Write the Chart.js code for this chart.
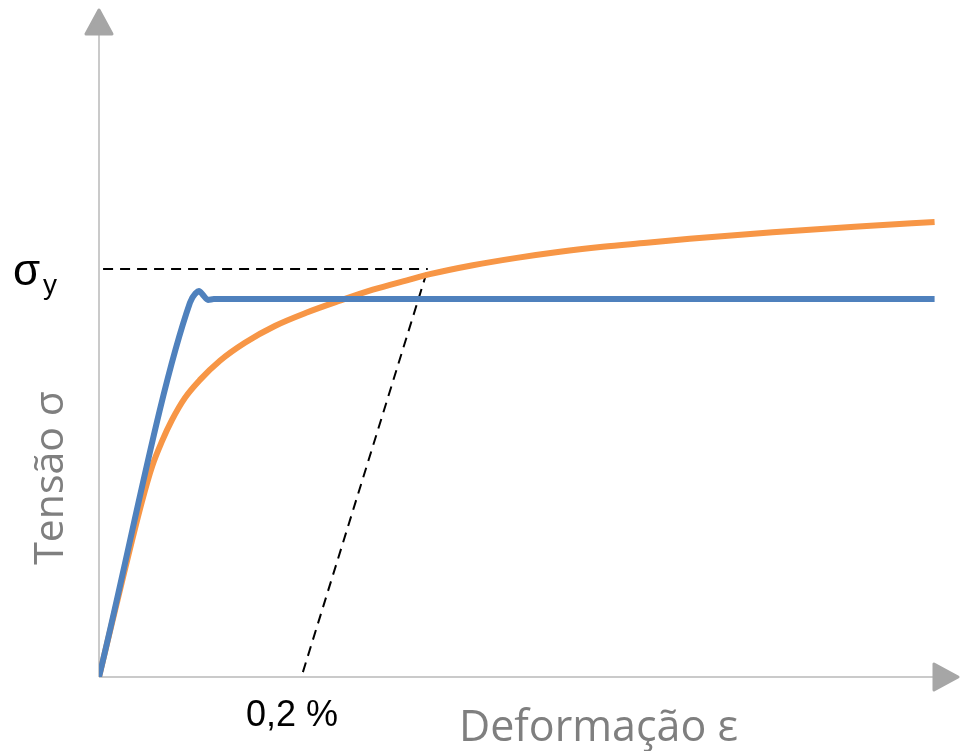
<!DOCTYPE html>
<html>
<head>
<meta charset="utf-8">
<script src="https://cdn.jsdelivr.net/npm/chart.js@4/dist/chart.umd.min.js"></script>
<style>
  html, body { margin: 0; padding: 0; background: #fff; }
  #wrap { width: 961px; height: 751px; position: relative; }
</style>
</head>
<body>
<div id="wrap"><canvas id="chart" width="961" height="751"></canvas></div>
<script>
// strain (x) and stress (y), arbitrary units
var idealX = [0, 0.0892, 0.0951, 0.0980, 0.1020, 0.1069, 0.1127, 0.8196];
var idealY = [0, 91.7, 94.1, 94.6, 93.6, 92.4, 92.6, 92.6];

var realX = [0, 0.0248, 0.0420, 0.0522, 0.0615, 0.0716, 0.0843, 0.0990, 0.1186, 0.1431,
             0.1725, 0.2039, 0.2363, 0.2686, 0.3020, 0.3245, 0.3667, 0.4098, 0.4520,
             0.4941, 0.5373, 0.5794, 0.6608, 0.7529, 0.8196];
var realY = [0, 25.7, 42.9, 51.7, 57.6, 63.0, 68.4, 72.8, 77.5, 81.9,
             86.0, 89.3, 92.2, 94.9, 97.2, 98.7, 100.9, 102.7, 104.2,
             105.4, 106.4, 107.4, 109.0, 110.5, 111.5];

var yieldX = [0.004, 0.3225];
var yieldY = [100, 100];
var offsetX = [0.2, 0.3225];
var offsetY = [1.2, 100];

function pts(xs, ys) {
    return xs.map(function (x, i) { return { x: x, y: ys[i] }; });
}

var axisColor = '#CACACA';
var arrowColor = '#A6A6A6';

var decorPlugin = {
    id: 'decor',
    beforeDatasetsDraw: function (chart) {
        var ctx = chart.ctx;
        var xs = chart.scales.x, ys = chart.scales.y;
        var x0 = xs.getPixelForValue(0), y0 = ys.getPixelForValue(0);
        ctx.save();
        ctx.strokeStyle = axisColor;
        ctx.lineWidth = 2;
        ctx.beginPath();
        ctx.moveTo(x0, y0);
        ctx.lineTo(x0, 30);
        ctx.moveTo(x0, y0);
        ctx.lineTo(935, y0);
        ctx.stroke();

        ctx.fillStyle = arrowColor;
        ctx.strokeStyle = arrowColor;
        ctx.lineJoin = 'round';
        ctx.lineWidth = 3;
        // y arrow
        ctx.beginPath();
        ctx.moveTo(x0, 10);
        ctx.lineTo(x0 + 13, 34);
        ctx.lineTo(x0 - 13, 34);
        ctx.closePath();
        ctx.fill();
        ctx.stroke();
        // x arrow
        ctx.beginPath();
        ctx.moveTo(958, y0);
        ctx.lineTo(934, y0 - 13);
        ctx.lineTo(934, y0 + 13);
        ctx.closePath();
        ctx.fill();
        ctx.stroke();
        ctx.restore();
    },
    afterDraw: function (chart) {
        var ctx = chart.ctx;
        ctx.save();
        ctx.fillStyle = '#000';
        ctx.textBaseline = 'alphabetic';
        ctx.font = '44px "Liberation Sans", Arial, sans-serif';
        ctx.fillText('σ', 13, 285);
        ctx.font = '28px "Liberation Sans", Arial, sans-serif';
        ctx.fillText('y', 43, 294);
        ctx.font = '36px "Liberation Sans", Arial, sans-serif';
        ctx.fillText('0,2 %', 246, 726);

        ctx.fillStyle = '#7F7F7F';
        ctx.font = '43px "Open Sans", Lato, sans-serif';
        ctx.fillText('Deformação ε', 459, 741);
        ctx.font = '41px "Open Sans", Lato, sans-serif';
        ctx.translate(63, 478);
        ctx.rotate(-Math.PI / 2);
        ctx.textAlign = 'center';
        ctx.fillText('Tensão σ', 0, 0);
        ctx.restore();
    }
};

new Chart(document.getElementById('chart').getContext('2d'), {
    type: 'scatter',
    data: {
        datasets: [
            {
                label: 'offset',
                data: pts(offsetX, offsetY),
                showLine: true,
                borderColor: '#000',
                borderWidth: 2,
                borderDash: [10, 7],
                pointRadius: 0,
                order: 3
            },
            {
                label: 'yield',
                data: pts(yieldX, yieldY),
                showLine: true,
                borderColor: '#000',
                borderWidth: 2,
                borderDash: [10, 7],
                pointRadius: 0,
                order: 3
            },
            {
                label: 'ideal',
                data: pts(idealX, idealY),
                showLine: true,
                borderColor: '#4F81BD',
                borderWidth: 6,
                cubicInterpolationMode: 'monotone',
                borderJoinStyle: 'round',
                pointRadius: 0,
                order: 1
            },
            {
                label: 'real',
                data: pts(realX, realY),
                showLine: true,
                borderColor: '#F79646',
                borderWidth: 6,
                cubicInterpolationMode: 'monotone',
                pointRadius: 0,
                order: 2
            }
        ]
    },
    options: {
        responsive: false,
        animation: false,
        layout: { padding: { left: 99, right: 26, top: 24, bottom: 74 } },
        plugins: {
            legend: { display: false },
            tooltip: { enabled: false }
        },
        scales: {
            x: { type: 'linear', min: 0, max: 0.82, display: false },
            y: { type: 'linear', min: 0, max: 160, display: false }
        }
    },
    plugins: [decorPlugin]
});
</script>
</body>
</html>
